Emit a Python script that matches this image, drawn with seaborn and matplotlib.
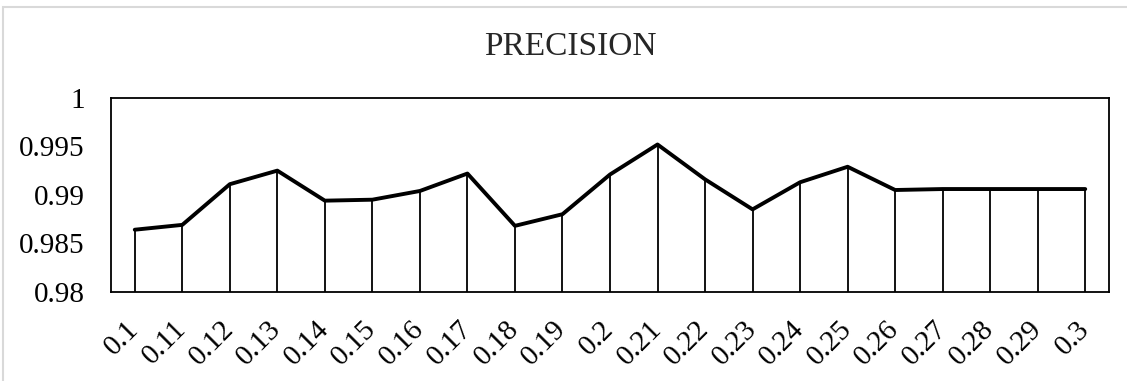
import matplotlib
matplotlib.use("Agg")
import matplotlib.pyplot as plt
import matplotlib.patches as mpatches
import seaborn as sns
import pandas as pd

# data
thresholds = ["0.1", "0.11", "0.12", "0.13", "0.14", "0.15", "0.16", "0.17", "0.18", "0.19", "0.2",
              "0.21", "0.22", "0.23", "0.24", "0.25", "0.26", "0.27", "0.28", "0.29", "0.3"]
precision = [0.9864, 0.9869, 0.9911, 0.9925, 0.9894, 0.9895, 0.9904, 0.9922, 0.9868, 0.9880, 0.9921,
             0.9952, 0.9916, 0.9885, 0.9913, 0.9929, 0.9905, 0.9906, 0.9906, 0.9906, 0.9906]
yticks = [0.98, 0.985, 0.99, 0.995, 1.0]
ytick_labels = ["0.98", "0.985", "0.99", "0.995", "1"]

df = pd.DataFrame({"threshold": thresholds, "precision": precision})
df["pos"] = range(len(df))

sns.set_style("white")
plt.rcParams["font.family"] = ["Liberation Serif", "DejaVu Serif"]

fig = plt.figure(figsize=(11.27, 3.81), dpi=100)
ax = fig.add_axes([111 / 1127, 1 - 291.7 / 381, 998 / 1127, 193.7 / 381])

# drop lines from the axis to each point
ax.vlines(df["pos"], 0.98, df["precision"], color="black", linewidth=1.3)
sns.lineplot(data=df, x="pos", y="precision", ax=ax, color="black", linewidth=2.8, sort=False)

ax.set_xlim(-0.5, len(df) - 0.5)
ax.set_ylim(0.98, 1.0)
ax.set_xticks(df["pos"])
ax.set_xticklabels(thresholds, rotation=45, ha="right", va="center", rotation_mode="anchor")
ax.set_yticks(yticks)
ax.set_yticklabels(ytick_labels)
ax.tick_params(axis="both", length=0, labelsize=21, colors="black")
ax.tick_params(axis="y", pad=19)
ax.tick_params(axis="x", pad=24)
ax.set_xlabel("")
ax.set_ylabel("")
for s in ax.spines.values():
    s.set_visible(True)
    s.set_color("black")
    s.set_linewidth(1.3)

fig.text(570 / 1127, 1 - 46.5 / 381, "PRECISION", ha="center", va="center", fontsize=24)

# light grey chart border
fig.patches.append(mpatches.Rectangle((3 / 1127, -0.1), 1.1, 1.1 - 7 / 381, transform=fig.transFigure,
                                      fill=False, edgecolor="#d9d9d9", linewidth=1.5))

fig.savefig("out.png", dpi=100)
